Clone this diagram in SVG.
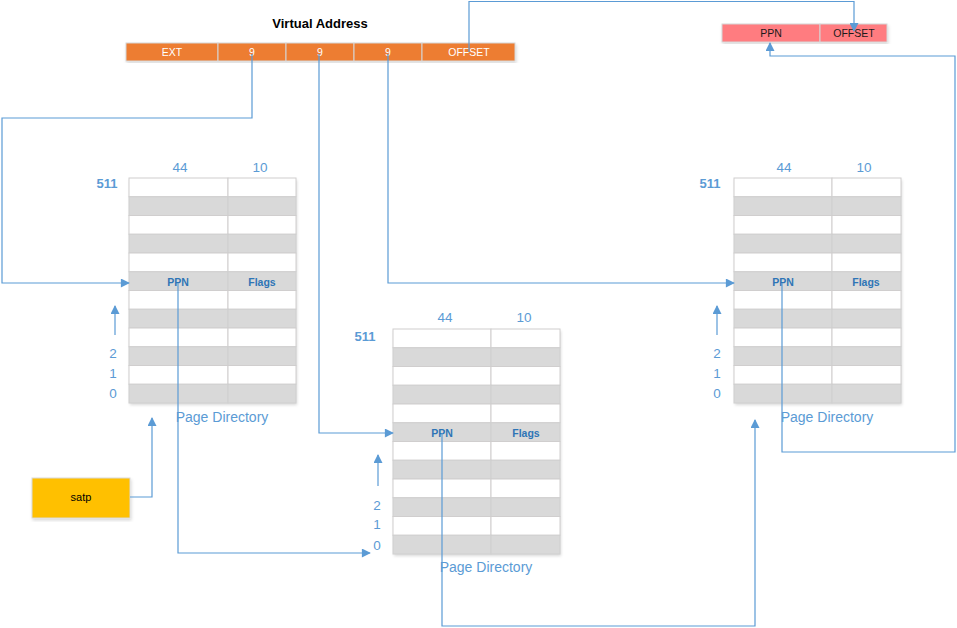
<svg xmlns="http://www.w3.org/2000/svg" width="957" height="628" viewBox="0 0 957 628">
<defs>
<marker id="ah" viewBox="0 0 10 10" refX="9" refY="5" markerWidth="10" markerHeight="9" markerUnits="userSpaceOnUse" orient="auto">
<path d="M0,0 L10,5 L0,10 z" fill="#5B9BD5"/>
</marker>
<filter id="sh" x="-10%" y="-10%" width="120%" height="120%">
<feDropShadow dx="1" dy="2" stdDeviation="1.5" flood-color="#000" flood-opacity="0.15"/>
</filter>
</defs>
<style>
text{font-family:"Liberation Sans",Arial,sans-serif}
.w{fill:#FFFFFF;stroke:#D0CECE;stroke-width:1}
.g{fill:#D9D9D9;stroke:#CFCFCF;stroke-width:1}
.num{font-size:13.5px;fill:#5B9BD5;text-anchor:middle}
.idx{font-size:13.5px;fill:#5B9BD5;text-anchor:middle}
.b511{font-size:13px;font-weight:bold;fill:#5B9BD5;text-anchor:middle}
.cap{font-size:14px;fill:#5B9BD5;text-anchor:middle}
.cell{font-size:10.5px;font-weight:bold;fill:#2E75B6;text-anchor:middle}
.va{fill:#ED7D31;stroke:#D6D6D6;stroke-width:1}
.vat{font-size:10.5px;fill:#FFFFFF;text-anchor:middle}
.pa{fill:#FF7C80;stroke:#D6D6D6;stroke-width:1}
.pat{font-size:10.5px;fill:#1A1A1A;text-anchor:middle}
.c{fill:none;stroke:#5B9BD5;stroke-width:1.2}
</style>

<g id="virtual-address">
<text x="320" y="28" font-size="13" font-weight="bold" text-anchor="middle" fill="#000">Virtual Address</text>
<g filter="url(#sh)">
<rect class="va" x="126" y="43" width="92" height="18"/>
<rect class="va" x="218" y="43" width="68" height="18"/>
<rect class="va" x="286" y="43" width="68" height="18"/>
<rect class="va" x="354" y="43" width="68" height="18"/>
<rect class="va" x="422" y="43" width="93" height="18"/>
</g>
<text class="vat" x="172" y="56">EXT</text>
<text class="vat" x="252" y="56">9</text>
<text class="vat" x="320" y="56">9</text>
<text class="vat" x="388" y="56">9</text>
<text class="vat" x="469" y="56">OFFSET</text>
</g>

<g id="physical-address">
<g filter="url(#sh)">
<rect class="pa" x="722" y="24" width="98" height="18"/>
<rect class="pa" x="820" y="24" width="67" height="18"/>
</g>
<text class="pat" x="771" y="37">PPN</text>
<text class="pat" x="854" y="37">OFFSET</text>
</g>

<g id="satp">
<rect x="32" y="478" width="98" height="40" fill="#FFC000" stroke="#D9D9D9" stroke-width="1" filter="url(#sh)"/>
<text x="81" y="501" font-size="11" text-anchor="middle" fill="#000">satp</text>
</g>

<g id="table-left">
<g filter="url(#sh)">
<rect x="129" y="178" width="167" height="225" fill="#fff"/>
</g>
<g>
<rect class="w" x="129" y="178" width="99" height="18.75"/><rect class="w" x="228" y="178" width="68" height="18.75"/>
<rect class="g" x="129" y="196.75" width="99" height="18.75"/><rect class="g" x="228" y="196.75" width="68" height="18.75"/>
<rect class="w" x="129" y="215.5" width="99" height="18.75"/><rect class="w" x="228" y="215.5" width="68" height="18.75"/>
<rect class="g" x="129" y="234.25" width="99" height="18.75"/><rect class="g" x="228" y="234.25" width="68" height="18.75"/>
<rect class="w" x="129" y="253" width="99" height="18.75"/><rect class="w" x="228" y="253" width="68" height="18.75"/>
<rect class="g" x="129" y="271.75" width="99" height="18.75"/><rect class="g" x="228" y="271.75" width="68" height="18.75"/>
<rect class="w" x="129" y="290.5" width="99" height="18.75"/><rect class="w" x="228" y="290.5" width="68" height="18.75"/>
<rect class="g" x="129" y="309.25" width="99" height="18.75"/><rect class="g" x="228" y="309.25" width="68" height="18.75"/>
<rect class="w" x="129" y="328" width="99" height="18.75"/><rect class="w" x="228" y="328" width="68" height="18.75"/>
<rect class="g" x="129" y="346.75" width="99" height="18.75"/><rect class="g" x="228" y="346.75" width="68" height="18.75"/>
<rect class="w" x="129" y="365.5" width="99" height="18.75"/><rect class="w" x="228" y="365.5" width="68" height="18.75"/>
<rect class="g" x="129" y="384.25" width="99" height="18.75"/><rect class="g" x="228" y="384.25" width="68" height="18.75"/>
</g>
<text class="cell" x="178" y="285.5">PPN</text>
<text class="cell" x="262" y="285.5">Flags</text>
<text class="num" x="180" y="172">44</text>
<text class="num" x="260" y="172">10</text>
<text class="b511" x="107" y="188">511</text>
<text class="idx" x="113" y="358">2</text>
<text class="idx" x="113" y="378">1</text>
<text class="idx" x="113" y="398">0</text>
<text class="cap" x="222" y="422">Page Directory</text>
</g>

<g id="table-middle">
<g filter="url(#sh)">
<rect x="393" y="329" width="167" height="225" fill="#fff"/>
</g>
<g>
<rect class="w" x="393" y="329" width="98" height="18.75"/><rect class="w" x="491" y="329" width="69" height="18.75"/>
<rect class="g" x="393" y="347.75" width="98" height="18.75"/><rect class="g" x="491" y="347.75" width="69" height="18.75"/>
<rect class="w" x="393" y="366.5" width="98" height="18.75"/><rect class="w" x="491" y="366.5" width="69" height="18.75"/>
<rect class="g" x="393" y="385.25" width="98" height="18.75"/><rect class="g" x="491" y="385.25" width="69" height="18.75"/>
<rect class="w" x="393" y="404" width="98" height="18.75"/><rect class="w" x="491" y="404" width="69" height="18.75"/>
<rect class="g" x="393" y="422.75" width="98" height="18.75"/><rect class="g" x="491" y="422.75" width="69" height="18.75"/>
<rect class="w" x="393" y="441.5" width="98" height="18.75"/><rect class="w" x="491" y="441.5" width="69" height="18.75"/>
<rect class="g" x="393" y="460.25" width="98" height="18.75"/><rect class="g" x="491" y="460.25" width="69" height="18.75"/>
<rect class="w" x="393" y="479" width="98" height="18.75"/><rect class="w" x="491" y="479" width="69" height="18.75"/>
<rect class="g" x="393" y="497.75" width="98" height="18.75"/><rect class="g" x="491" y="497.75" width="69" height="18.75"/>
<rect class="w" x="393" y="516.5" width="98" height="18.75"/><rect class="w" x="491" y="516.5" width="69" height="18.75"/>
<rect class="g" x="393" y="535.25" width="98" height="18.75"/><rect class="g" x="491" y="535.25" width="69" height="18.75"/>
</g>
<text class="cell" x="442" y="436.5">PPN</text>
<text class="cell" x="526" y="436.5">Flags</text>
<text class="num" x="445" y="322">44</text>
<text class="num" x="524" y="322">10</text>
<text class="b511" x="365" y="341">511</text>
<text class="idx" x="377" y="510">2</text>
<text class="idx" x="377" y="529">1</text>
<text class="idx" x="377" y="550">0</text>
<text class="cap" x="486" y="572">Page Directory</text>
</g>

<g id="table-right">
<g filter="url(#sh)">
<rect x="734" y="178" width="167" height="225" fill="#fff"/>
</g>
<g>
<rect class="w" x="734" y="178" width="98" height="18.75"/><rect class="w" x="832" y="178" width="69" height="18.75"/>
<rect class="g" x="734" y="196.75" width="98" height="18.75"/><rect class="g" x="832" y="196.75" width="69" height="18.75"/>
<rect class="w" x="734" y="215.5" width="98" height="18.75"/><rect class="w" x="832" y="215.5" width="69" height="18.75"/>
<rect class="g" x="734" y="234.25" width="98" height="18.75"/><rect class="g" x="832" y="234.25" width="69" height="18.75"/>
<rect class="w" x="734" y="253" width="98" height="18.75"/><rect class="w" x="832" y="253" width="69" height="18.75"/>
<rect class="g" x="734" y="271.75" width="98" height="18.75"/><rect class="g" x="832" y="271.75" width="69" height="18.75"/>
<rect class="w" x="734" y="290.5" width="98" height="18.75"/><rect class="w" x="832" y="290.5" width="69" height="18.75"/>
<rect class="g" x="734" y="309.25" width="98" height="18.75"/><rect class="g" x="832" y="309.25" width="69" height="18.75"/>
<rect class="w" x="734" y="328" width="98" height="18.75"/><rect class="w" x="832" y="328" width="69" height="18.75"/>
<rect class="g" x="734" y="346.75" width="98" height="18.75"/><rect class="g" x="832" y="346.75" width="69" height="18.75"/>
<rect class="w" x="734" y="365.5" width="98" height="18.75"/><rect class="w" x="832" y="365.5" width="69" height="18.75"/>
<rect class="g" x="734" y="384.25" width="98" height="18.75"/><rect class="g" x="832" y="384.25" width="69" height="18.75"/>
</g>
<text class="cell" x="783" y="285.5">PPN</text>
<text class="cell" x="866" y="285.5">Flags</text>
<text class="num" x="784" y="172">44</text>
<text class="num" x="864" y="172">10</text>
<text class="b511" x="710" y="188">511</text>
<text class="idx" x="717" y="358">2</text>
<text class="idx" x="717" y="378">1</text>
<text class="idx" x="717" y="398">0</text>
<text class="cap" x="827" y="422">Page Directory</text>
</g>

<g id="connectors">
<polyline class="c" points="252,54 252,118 2,118 2,283 129,283" marker-end="url(#ah)"/>
<polyline class="c" points="319,54 319,433 393,433" marker-end="url(#ah)"/>
<polyline class="c" points="388,54 388,283 734,283" marker-end="url(#ah)"/>
<polyline class="c" points="469,52 469,1.5 854,1.5 854,31" marker-end="url(#ah)"/>
<polyline class="c" points="130,497 152,497 152,418" marker-end="url(#ah)"/>
<polyline class="c" points="178,283 178,553 370,553" marker-end="url(#ah)"/>
<polyline class="c" points="442,433 442,626 755,626 755,420" marker-end="url(#ah)"/>
<polyline class="c" points="782,283 782,452 955,452 955,56 770,56 770,43" marker-end="url(#ah)"/>
<line class="c" x1="115" y1="335" x2="115" y2="306" marker-end="url(#ah)"/>
<line class="c" x1="378" y1="486" x2="378" y2="455" marker-end="url(#ah)"/>
<line class="c" x1="717" y1="335" x2="717" y2="306" marker-end="url(#ah)"/>
</g>
</svg>
